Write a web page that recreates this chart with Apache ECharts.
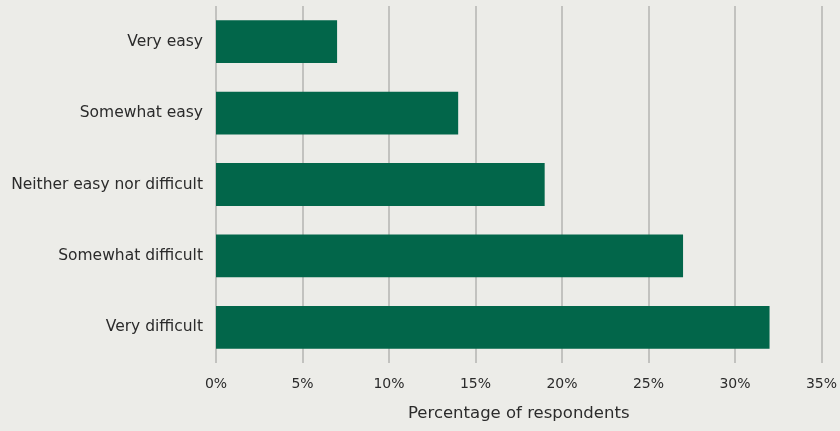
<!DOCTYPE html>
<html>
<head>
<meta charset="utf-8">
<script src="https://cdn.jsdelivr.net/npm/echarts@6/dist/echarts.min.js"></script>
<style>
html,body{margin:0;padding:0;background:#ecece8;}
#chart{width:840px;height:431px;}
</style>
</head>
<body>
<div id="chart"></div>
<script>
const categories = ["Very easy", "Somewhat easy", "Neither easy nor difficult", "Somewhat difficult", "Very difficult"];
const values = [7, 14, 19, 27, 32];
const xTicks = [0, 5, 10, 15, 20, 25, 30, 35];
const xAxisTitle = "Percentage of respondents";

const chart = echarts.init(document.getElementById('chart'));
chart.setOption({
  backgroundColor: '#ecece8',
  textStyle: { fontFamily: '"DejaVu Sans", sans-serif' },
  grid: { left: 216, right: 18, top: 6, bottom: 68, containLabel: false },
  xAxis: {
    type: 'value',
    min: xTicks[0],
    max: xTicks[xTicks.length - 1],
    interval: 5,
    axisLine: { show: false },
    axisTick: { show: false },
    splitLine: { show: true, lineStyle: { color: '#b4b4b2', width: 1.5 } },
    axisLabel: { formatter: '{value}%', color: '#2b2b2b', fontSize: 14, margin: 14 },
    name: xAxisTitle,
    nameLocation: 'middle',
    nameGap: 42,
    nameTextStyle: { color: '#2b2b2b', fontSize: 16.5 }
  },
  yAxis: {
    type: 'category',
    data: categories,
    inverse: true,
    axisLine: { show: false },
    axisTick: { show: false },
    axisLabel: { color: '#2b2b2b', fontSize: 15.5, margin: 13 }
  },
  series: [{
    type: 'bar',
    data: values,
    barWidth: '60%',
    itemStyle: { color: '#02664a' },
    silent: true
  }]
});
</script>
</body>
</html>
